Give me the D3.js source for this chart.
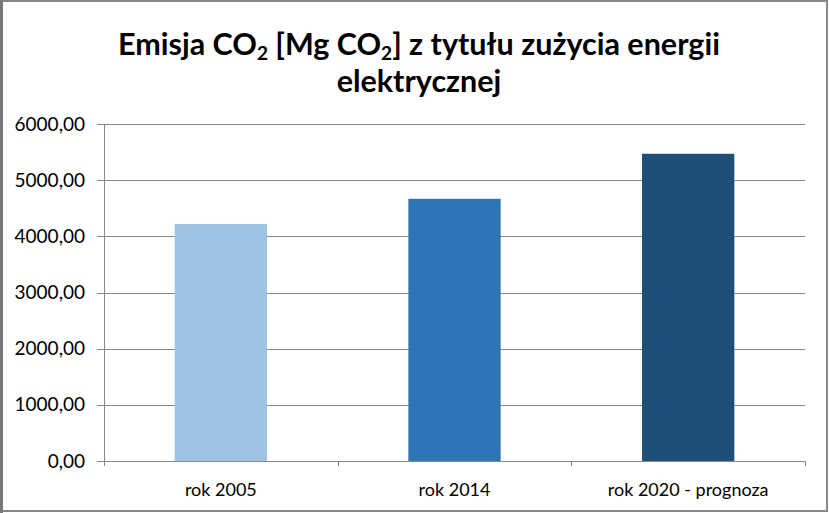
<!DOCTYPE html>
<html>
<head>
<meta charset="utf-8">
<script src="https://cdn.jsdelivr.net/npm/d3@7"></script>
<style>
  body { margin: 0; background: #fff; }
  svg { display: block; }
</style>
</head>
<body>
<svg id="chart"></svg>
<script>
const categories = ["rok 2005", "rok 2014", "rok 2020 - prognoza"];
const values = [4220, 4668, 5470];
const colors = ["#9dc3e6", "#2e75b6", "#1f4e79"];
const yTicks = [0, 1000, 2000, 3000, 4000, 5000, 6000];

const width = 829;
const height = 513;
const margin = { top: 124, right: 24, bottom: 52, left: 104 };
const font = "Lato, 'Open Sans', sans-serif";

const svg = d3.select("#chart")
    .attr("width", width)
    .attr("height", height);

// ramka wykresu
svg.append("rect")
    .attr("x", 1).attr("y", 1)
    .attr("width", width - 3).attr("height", height - 3)
    .attr("fill", "#fff")
    .attr("stroke", "#888")
    .attr("stroke-width", 2);
svg.append("rect")
    .attr("x", 0).attr("y", 0)
    .attr("width", 3).attr("height", height)
    .attr("fill", "#777");

const x = d3.scaleBand()
    .domain(categories)
    .range([margin.left, width - margin.right])
    .paddingInner(0.605)
    .paddingOuter(0.3025);

const y = d3.scaleLinear()
    .domain([0, 6000])
    .range([height - margin.bottom, margin.top]);

// siatka
svg.append("g").selectAll("line")
    .data(yTicks)
    .join("line")
        .attr("x1", margin.left - 7)
        .attr("x2", width - margin.right)
        .attr("y1", d => Math.round(y(d)) + 0.5)
        .attr("y2", d => Math.round(y(d)) + 0.5)
        .attr("stroke", "#888")
        .attr("stroke-width", 1);

// słupki
svg.append("g").selectAll("rect")
    .data(values)
    .join("rect")
        .attr("x", (d, i) => x(categories[i]))
        .attr("width", x.bandwidth())
        .attr("y", d => y(d))
        .attr("height", d => y(0) - y(d))
        .attr("fill", (d, i) => colors[i]);

// oś Y
svg.append("line")
    .attr("x1", margin.left + 0.5).attr("x2", margin.left + 0.5)
    .attr("y1", y(6000)).attr("y2", y(0) + 5)
    .attr("stroke", "#888");

const fmt = d => d3.format(".2f")(d).replace(".", ",");
svg.append("g").selectAll("text")
    .data(yTicks)
    .join("text")
        .attr("x", margin.left - 19)
        .attr("y", d => y(d) + 6.5)
        .attr("text-anchor", "end")
        .attr("font-family", font)
        .attr("font-size", 19)
        .attr("fill", "#000")
        .text(fmt);

// oś X
const plotW = width - margin.right - margin.left;
const xAxis = svg.append("g");
xAxis.selectAll("line")
    .data(d3.range(categories.length + 1))
    .join("line")
        .attr("x1", i => Math.round(margin.left + i * plotW / categories.length) + 0.5)
        .attr("x2", i => Math.round(margin.left + i * plotW / categories.length) + 0.5)
        .attr("y1", y(0))
        .attr("y2", y(0) + 5)
        .attr("stroke", "#888");
xAxis.selectAll("text")
    .data(categories)
    .join("text")
        .attr("x", d => x(d) + x.bandwidth() / 2)
        .attr("y", y(0) + 35)
        .attr("text-anchor", "middle")
        .attr("font-family", font)
        .attr("font-size", 18)
        .attr("fill", "#000")
        .text(d => d);

// tytuł
const title = svg.append("text")
    .attr("x", 419)
    .attr("y", 55)
    .attr("text-anchor", "middle")
    .attr("font-family", font)
    .attr("font-weight", "bold")
    .attr("font-size", 30.5)
    .attr("fill", "#000");
title.append("tspan").text("Emisja CO");
title.append("tspan").attr("font-size", 19).attr("dy", 5).text("2");
title.append("tspan").attr("dy", -5).text(" [Mg CO");
title.append("tspan").attr("font-size", 19).attr("dy", 5).text("2");
title.append("tspan").attr("dy", -5).text("] z tytułu zużycia energii");

svg.append("text")
    .attr("x", 419)
    .attr("y", 92)
    .attr("text-anchor", "middle")
    .attr("font-family", font)
    .attr("font-weight", "bold")
    .attr("font-size", 30.5)
    .attr("fill", "#000")
    .text("elektrycznej");
</script>
</body>
</html>
